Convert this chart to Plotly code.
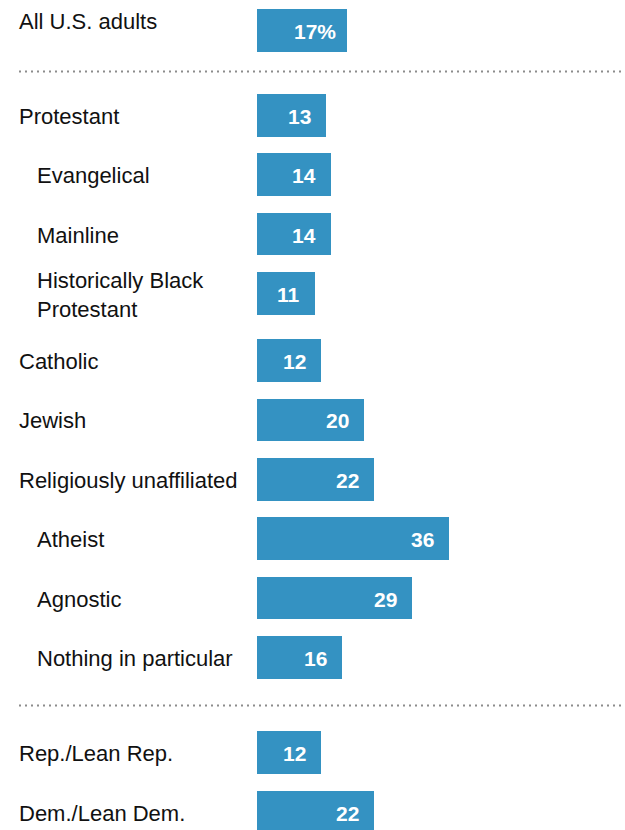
import plotly.graph_objects as go

# ---- data ----
categories = [
    "All U.S. adults",
    "Protestant",
    "Evangelical",
    "Mainline",
    "Historically Black<br>Protestant",
    "Catholic",
    "Jewish",
    "Religiously unaffiliated",
    "Atheist",
    "Agnostic",
    "Nothing in particular",
    "Rep./Lean Rep.",
    "Dem./Lean Dem.",
]
values = [17, 13, 14, 14, 11, 12, 20, 22, 36, 29, 16, 12, 22]
value_labels = ["17%", "13", "14", "14", "11", "12", "20", "22", "36", "29", "16", "12", "22"]
indented = [False, False, True, True, True, False, False, False, True, True, True, False, False]

# ---- layout (pixel geometry) ----
W, H = 625, 830
first_center = 30.5
row_gaps = [0, 84.8, 59.4, 59.4, 59.4, 67.0, 59.4, 59.4, 59.4, 59.4, 59.4, 94.8, 60.0]
ypos = []
acc = first_center
for g in row_gaps:
    acc += g
    ypos.append(acc)
ypos[0] = first_center

bar_start_px = 256.7
px_per_unit = 5.34
x_range = [-bar_start_px / px_per_unit, (W - bar_start_px) / px_per_unit]
separators_y = [71.5, 705.5]

BAR = "#3492c2"
FONT = "Liberation Sans, Arial, sans-serif"

fig = go.Figure()
fig.add_trace(go.Bar(
    x=values, y=ypos, orientation="h", width=42.6,
    marker=dict(color=BAR, line=dict(width=0)),
    hoverinfo="skip",
))

annotations = []
for cat, y, ind, v, lab in zip(categories, ypos, indented, values, value_labels):
    ly = y - 9 if cat == "All U.S. adults" else y + 1
    annotations.append(dict(
        x=(37 if ind else 19) / W, xref="paper", y=ly, yref="y", xshift=-2,
        text=cat, showarrow=False, xanchor="left", yanchor="middle", align="left",
        font=dict(family=FONT, size=22, color="#111111"),
    ))
    annotations.append(dict(
        x=v, xref="x", y=y + 1, yref="y", text="<b>%s</b>" % lab,
        showarrow=False, xanchor="right", yanchor="middle",
        xshift=-9 if "%" in lab else -13,
        font=dict(family=FONT, size=21, color="white"),
    ))

shapes = [dict(type="line", xref="paper", yref="y", x0=19 / W, x1=1, y0=sy, y1=sy,
               line=dict(color="#8c8c8c", width=2, dash="2px,4px")) for sy in separators_y]

fig.update_layout(
    width=W, height=H, margin=dict(l=0, r=0, t=0, b=0),
    paper_bgcolor="white", plot_bgcolor="white",
    showlegend=False, bargap=0,
    xaxis=dict(range=x_range, visible=False, fixedrange=True),
    yaxis=dict(range=[H, 0], visible=False, fixedrange=True),
    annotations=annotations, shapes=shapes,
)

fig.write_html("out.html")
